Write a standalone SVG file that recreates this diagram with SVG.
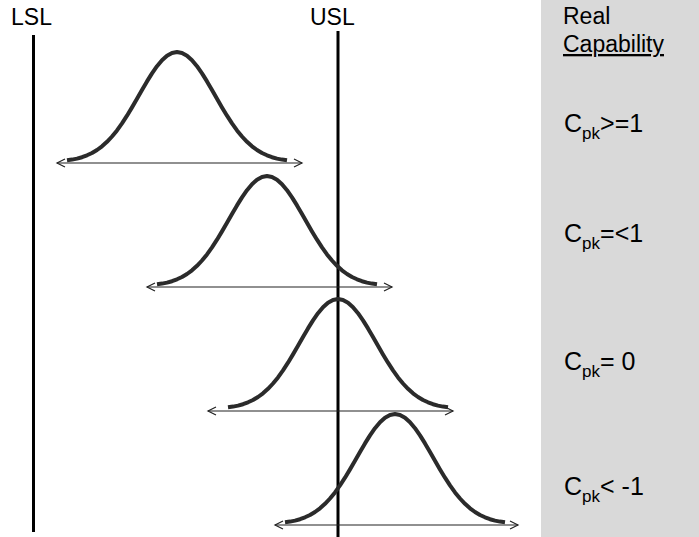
<svg xmlns="http://www.w3.org/2000/svg" xmlns:xlink="http://www.w3.org/1999/xlink" width="699" height="537" viewBox="0 0 699 537">
<style>
.lbl{font-family:"Liberation Sans",Arial,sans-serif;fill:#000;}
.curve{fill:none;stroke:#2b2b2b;stroke-width:4;stroke-linejoin:round;}
.arr{fill:none;stroke:#222;stroke-width:1.2;marker-start:url(#ah);marker-end:url(#ah);}
.lim{stroke:#000;stroke-width:3;}
</style>
<defs>
<marker id="ah" markerWidth="12" markerHeight="12" refX="9" refY="5" orient="auto-start-reverse" markerUnits="userSpaceOnUse" viewBox="0 0 12 10">
<path d="M1,1 L9,5 L1,9" fill="none" stroke="#222" stroke-width="1.2"/>
</marker>
<path id="bell" d="M-110,108.3 L-105,107.6 L-100,106.6 L-95,105.2 L-90,103.3 L-85,101 L-80,98 L-75,94.3 L-70,89.8 L-65,84.5 L-60,78.4 L-55,71.4 L-50,63.7 L-45,55.4 L-40,46.8 L-35,38 L-30,29.4 L-25,21.4 L-20,14.2 L-15,8.2 L-10,3.7 L-5,0.95 L0,0 L5,0.95 L10,3.7 L15,8.2 L20,14.2 L25,21.4 L30,29.4 L35,38 L40,46.8 L45,55.4 L50,63.7 L55,71.4 L60,78.4 L65,84.5 L70,89.8 L75,94.3 L80,98 L85,101 L90,103.3 L95,105.2 L100,106.6 L105,107.6 L110,108.3"/>
</defs>
<rect x="0" y="0" width="699" height="537" fill="#fff"/>
<rect id="panel" x="541" y="0" width="158" height="537" fill="#d9d9d9"/>

<g id="limits">
<g id="lsl"><line class="lim" x1="33.5" y1="35" x2="33.5" y2="532"/><text class="lbl" x="11" y="25" font-size="23">LSL</text></g>
<g id="usl"><line class="lim" x1="338" y1="31" x2="338" y2="537"/><text class="lbl" x="310" y="25" font-size="23">USL</text></g>
</g>

<g id="connectors">
<line class="arr" x1="57" y1="163" x2="302" y2="163"/>
<line class="arr" x1="147" y1="287" x2="392" y2="287"/>
<line class="arr" x1="208" y1="411" x2="453" y2="411"/>
<line class="arr" x1="275" y1="525" x2="518" y2="525"/>
</g>

<g id="dist1"><use xlink:href="#bell" href="#bell" class="curve" transform="translate(177,52)"/></g>
<g id="dist2"><use xlink:href="#bell" href="#bell" class="curve" transform="translate(267,176)"/></g>
<g id="dist3"><use xlink:href="#bell" href="#bell" class="curve" transform="translate(338,299)"/></g>
<g id="dist4"><use xlink:href="#bell" href="#bell" class="curve" transform="translate(395,414)"/></g>

<g id="header"><text class="lbl" x="563" y="24" font-size="23">Real</text>
<text class="lbl" x="563" y="52" font-size="23" text-decoration="underline">Capability</text></g>

<g id="cpk1"><text class="lbl" x="564" y="132" font-size="25">C<tspan font-size="17" dy="7">pk</tspan><tspan dy="-7">&gt;=1</tspan></text></g>
<g id="cpk2"><text class="lbl" x="564" y="242" font-size="25">C<tspan font-size="17" dy="7">pk</tspan><tspan dy="-7">=&lt;1</tspan></text></g>
<g id="cpk3"><text class="lbl" x="564" y="370" font-size="25">C<tspan font-size="17" dy="7">pk</tspan><tspan dy="-7">= 0</tspan></text></g>
<g id="cpk4"><text class="lbl" x="564" y="495" font-size="25">C<tspan font-size="17" dy="7">pk</tspan><tspan dy="-7">&lt; -1</tspan></text></g>
</svg>
